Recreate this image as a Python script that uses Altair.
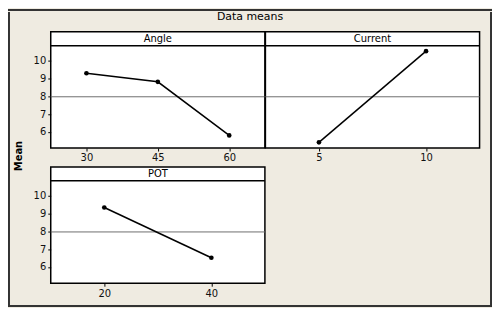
import altair as alt
import pandas as pd

# ---- data ----
factor = ["Angle", "Angle", "Angle", "Current", "Current", "POT", "POT"]
level = [30, 45, 60, 5, 10, 20, 40]
mean = [9.29, 8.81, 5.80, 5.41, 10.53, 9.34, 6.52]
grand_mean = [7.97]
y_ticks = [6, 7, 8, 9, 10]
y_domain = [5.09, 11.62]   # upper part of each panel holds the header strip
title_text = ["Data means"]
y_title = ["Mean"]

df = pd.DataFrame({"factor": factor, "level": level, "mean": mean})
gm = pd.DataFrame({"m": grand_mean})

FONT = "DejaVu Sans"
BG = "#EFEBE1"
EDGE = "#333333"
PW, PH, HH = 215.5, 117, 14
NOSTROKE = alt.ViewBackground(stroke=None, fill=None)


def panel(name, show_y):
    yscale = alt.Scale(domain=y_domain, nice=False, zero=False)
    yaxis = alt.Axis(values=y_ticks, title=None, grid=False, domain=False,
                     tickSize=3, tickColor="black", labelPadding=2,
                     labelFont=FONT, labelFontSize=10, labelColor="#111")
    xenc = alt.X("level:O", scale=alt.Scale(type="point", padding=0.5),
                 axis=alt.Axis(title=None, labelAngle=0, domain=False, tickSize=3,
                               tickColor="black", labelPadding=2, labelFont=FONT,
                               labelFontSize=10, labelColor="#111"))
    rule = alt.Chart(gm).mark_rule(color="#6e6e6e", strokeWidth=1).encode(
        y=alt.Y("m:Q", scale=yscale, axis=yaxis if show_y else None)
    )
    line = alt.Chart(df).transform_filter(alt.datum.factor == name).mark_line(
        color="black", strokeWidth=1.5,
        point=alt.OverlayMarkDef(filled=True, color="black", size=22, opacity=1),
    ).encode(
        x=xenc,
        y=alt.Y("mean:Q", scale=yscale, axis=yaxis if show_y else None),
    )
    hdr = pd.DataFrame({"name": [name]})
    header_line = alt.Chart(hdr).mark_rule(color="black", strokeWidth=1.5).encode(
        y=alt.value(HH)
    )
    header_text = alt.Chart(hdr).mark_text(
        font=FONT, fontSize=10, color="black", baseline="middle"
    ).encode(text="name:N", y=alt.value(HH / 2))
    return alt.layer(rule, line, header_line, header_text).properties(
        width=PW, height=PH,
        view=alt.ViewBackground(fill="white", stroke="black", strokeWidth=1.5),
    )


def bar(w, h):
    # a plain filled view used as one side of the outer frame
    return alt.Chart(pd.DataFrame({"a": [0]})).mark_point(size=0, opacity=0).properties(
        width=w, height=h, view=alt.ViewBackground(fill=EDGE, stroke=None)
    )


top_row = alt.hconcat(panel("Angle", True), panel("Current", False),
                      spacing=0, bounds="flush")
grid = alt.vconcat(top_row, panel("POT", True), spacing=2)

mean_label = alt.Chart(pd.DataFrame({"t": y_title})).mark_text(
    font=FONT, fontSize=10, fontWeight="bold", angle=270, color="black"
).encode(text="t:N").properties(width=18, height=250, view=NOSTROKE)

content = alt.hconcat(mean_label, grid, spacing=4)

title_chart = alt.Chart(pd.DataFrame({"t": title_text})).mark_text(
    font=FONT, fontSize=11, color="black", baseline="middle"
).encode(text="t:N", y=alt.value(5)).properties(width=483, height=19, view=NOSTROKE)

inner = alt.vconcat(title_chart, content, spacing=0)
middle = alt.hconcat(bar(2, 295), inner, bar(2, 295), spacing=0)
chart = alt.vconcat(bar(487, 2), middle, bar(487, 2), spacing=0).properties(
    padding=0, background=BG
)

chart.save("out.html", embed_options={"renderer": "svg", "actions": False})
